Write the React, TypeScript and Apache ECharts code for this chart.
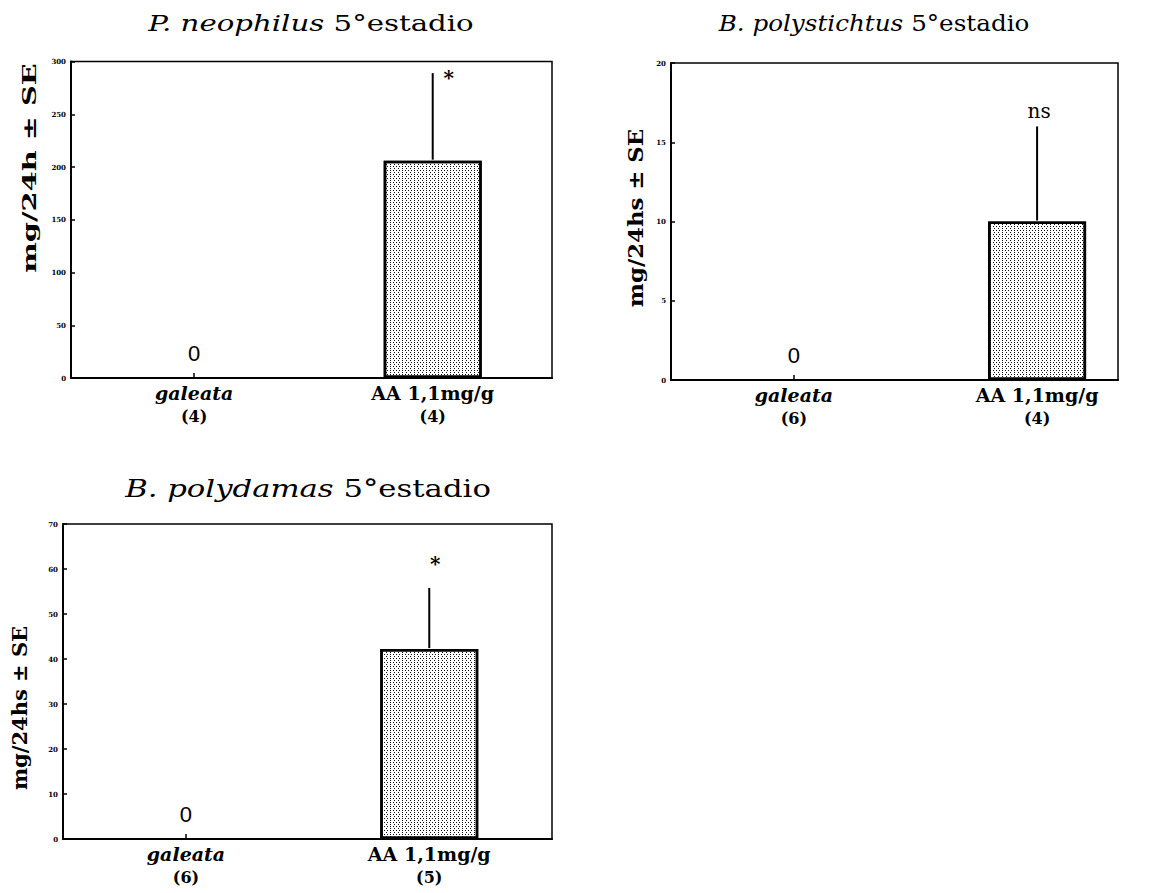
import React, { useEffect, useRef } from "react";
import * as echarts from "echarts";

// ---- data ----
const categories = ["galeata", "AA 1,1mg/g"];

const neophilusN = ["(4)", "(4)"];
const neophilusMean = [0, 206];
const neophilusSE = [0, 83];
const neophilusSig = ["", "*"];
const neophilusTicks = [0, 50, 100, 150, 200, 250, 300];

const polystichtusN = ["(6)", "(4)"];
const polystichtusMean = [0, 10];
const polystichtusSE = [0, 6];
const polystichtusSig = ["", "ns"];
const polystichtusTicks = [0, 5, 10, 15, 20];

const polydamasN = ["(6)", "(5)"];
const polydamasMean = [0, 42.2];
const polydamasSE = [0, 13.6];
const polydamasSig = ["", "*"];
const polydamasTicks = [0, 10, 20, 30, 40, 50, 60, 70];

const SERIF = "DejaVu Serif";

const panels = [
  {
    species: "P. neophilus",
    n: neophilusN, mean: neophilusMean, se: neophilusSE, sig: neophilusSig, ticks: neophilusTicks,
    yName: "mg/24h ± SE",
    layout: {
      titleX: 311, titleY: 23, titleSize: 23, titleScale: 1.27,
      left: 71, top: 61.5, width: 481, height: 316.5, xPos: [0.256, 0.752],
      yNameX: 29, yNameY: 168, yNameSize: 19, yNameScale: 1.52, sigDx: 16, sigDy: 5,
    },
  },
  {
    species: "B. polystichtus",
    n: polystichtusN, mean: polystichtusMean, se: polystichtusSE, sig: polystichtusSig, ticks: polystichtusTicks,
    yName: "mg/24hs ± SE",
    layout: {
      titleX: 874, titleY: 23, titleSize: 22, titleScale: 1.12,
      left: 671, top: 63, width: 447, height: 317, xPos: [0.275, 0.819],
      yNameX: 636, yNameY: 218, yNameSize: 20, yNameScale: 1.14, sigDx: 2, sigDy: -15,
    },
  },
  {
    species: "B. polydamas",
    n: polydamasN, mean: polydamasMean, se: polydamasSE, sig: polydamasSig, ticks: polydamasTicks,
    yName: "mg/24hs ± SE",
    layout: {
      titleX: 308, titleY: 488, titleSize: 24, titleScale: 1.28,
      left: 63, top: 524, width: 489, height: 315, xPos: [0.2515, 0.749],
      yNameX: 20, yNameY: 708, yNameSize: 20, yNameScale: 1.05, sigDx: 6, sigDy: -24,
    },
  },
];

export default function App() {
  const ref = useRef<HTMLDivElement>(null);

  useEffect(() => {
    if (!ref.current) return;
    const chart = echarts.init(ref.current, null, { renderer: "svg" });

    const grid: any[] = [];
    const xAxis: any[] = [];
    const yAxis: any[] = [];
    const series: any[] = [];
    const graphic: any[] = [];

    panels.forEach((p, i) => {
      const L = p.layout;
      // panel title (stretched horizontally like the original typeface)
      graphic.push({
        type: "text", x: L.titleX, y: L.titleY, scaleX: L.titleScale, scaleY: 1,
        style: {
          text: `{i|${p.species}} 5°estadio`,
          fontFamily: SERIF, fontSize: L.titleSize, fill: "#000",
          align: "center", verticalAlign: "middle",
          rich: { i: { fontFamily: SERIF, fontSize: L.titleSize, fontStyle: "italic", fill: "#000" } },
        },
      });
      grid.push({
        left: L.left, top: L.top, width: L.width, height: L.height,
        show: true, borderColor: "#000", borderWidth: 1.5, backgroundColor: "transparent",
      });
      const xPos = L.xPos;
      xAxis.push({
        type: "value", gridIndex: i, min: 0, max: 1,
        splitLine: { show: false },
        axisLine: { show: true, lineStyle: { color: "#000", width: 2 } },
        axisTick: { show: true, inside: true, length: 5, customValues: xPos, lineStyle: { color: "#000", width: 1.5 } },
        axisLabel: {
          show: true, margin: 3, customValues: xPos,
          formatter: (v: number) => {
            const k = xPos.findIndex((q) => Math.abs(q - v) < 1e-6);
            if (k < 0) return "";
            return k === 0 ? `{c|${categories[k]}}\n{n|${p.n[k]}}` : `{d|${categories[k]}}\n{n|${p.n[k]}}`;
          },
          rich: {
            c: { fontFamily: SERIF, fontStyle: "italic", fontWeight: "bold", fontSize: 19, lineHeight: 23, color: "#000" },
            d: { fontFamily: SERIF, fontWeight: "bold", fontSize: 19, lineHeight: 23, color: "#000" },
            n: { fontFamily: SERIF, fontWeight: "bold", fontSize: 16, lineHeight: 24, color: "#000" },
          },
        },
      });
      const tmax = p.ticks[p.ticks.length - 1];
      const step = p.ticks[1] - p.ticks[0];
      yAxis.push({
        type: "value", gridIndex: i, min: p.ticks[0], max: tmax, interval: step,
        splitLine: { show: false },
        axisLine: { show: true, lineStyle: { color: "#000", width: 2 } },
        axisTick: { show: true, inside: true, length: 4, lineStyle: { color: "#000", width: 1.5 } },
        axisLabel: { fontFamily: SERIF, fontSize: 7, fontWeight: "bold", color: "#000", margin: 5 },
      });
      graphic.push({
        type: "text", x: L.yNameX, y: L.yNameY, rotation: Math.PI / 2, scaleX: L.yNameScale, scaleY: 1,
        style: { text: p.yName, fontFamily: SERIF, fontSize: L.yNameSize, fontWeight: "bold", fill: "#000", align: "center", verticalAlign: "middle" },
      });

      series.push({
        type: "bar", xAxisIndex: i, yAxisIndex: i, barWidth: 98,
        data: p.mean.map((m, k) => ({
          value: [xPos[k], m],
          itemStyle: m === 0 ? { borderWidth: 0, color: "rgba(0,0,0,0)", decal: "none" } : undefined,
        })),
        itemStyle: {
          color: "#ffffff", borderColor: "#000", borderWidth: 2.5,
          decal: {
            symbol: "rect", symbolSize: 1, color: "#111",
            dashArrayX: [[1, 1.5], [0, 1.25, 1, 0.25]], dashArrayY: [1, 1],
            backgroundColor: "#f4f4f4",
          },
        },
        label: {
          show: true, position: "top", distance: 14,
          formatter: (prm: any) => (prm.value[1] === 0 ? "0" : ""),
          fontFamily: "Liberation Sans", fontSize: 22, color: "#000",
        },
      });
      series.push({
        type: "custom", xAxisIndex: i, yAxisIndex: i,
        data: p.mean.map((m, k) => [xPos[k], m, p.se[k], k]),
        renderItem: (params: any, api: any) => {
          const se = api.value(2);
          const k = api.value(3);
          const x = api.value(0);
          const m = api.value(1);
          const a = api.coord([x, m]);
          const b = api.coord([x, m + se]);
          const children: any[] = [];
          if (se > 0) {
            children.push({ type: "line", shape: { x1: a[0], y1: a[1] - 1, x2: b[0], y2: b[1] }, style: { stroke: "#000", lineWidth: 2 } });
          }
          const s = p.sig[k];
          if (s) {
            children.push({
              type: "text", x: b[0] + L.sigDx, y: b[1] + L.sigDy,
              style: { text: s, fontFamily: SERIF, fontSize: 20, fontWeight: s === "*" ? "bold" : "normal", fill: "#000", align: "center", verticalAlign: "middle" },
            });
          }
          return { type: "group", children };
        },
        z: 5,
      });
    });

    chart.setOption({
      animation: false,
      backgroundColor: "#fff",
      grid, xAxis, yAxis, series, graphic,
    });
    return () => chart.dispose();
  }, []);

  return <div ref={ref} style={{ position: "fixed", left: 0, top: 0, width: 1157, height: 893 }} />;
}
